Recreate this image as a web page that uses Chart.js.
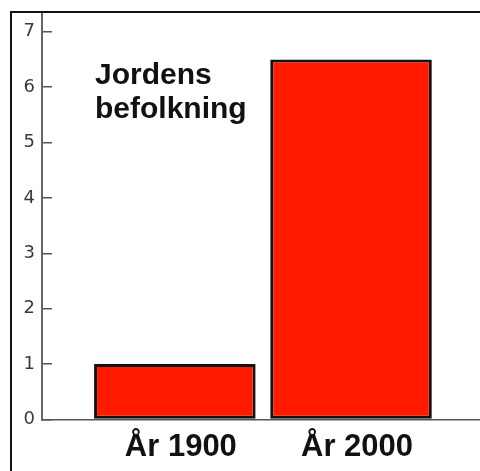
<!DOCTYPE html>
<html>
<head>
<meta charset="utf-8">
<script src="https://cdn.jsdelivr.net/npm/chart.js@4.4.1/dist/chart.umd.min.js"></script>
<style>
  html, body { margin: 0; padding: 0; background: #fff; }
  #wrap { position: relative; width: 480px; height: 471px; overflow: hidden; }
  #frame {
    position: absolute; left: 10px; top: 11px; width: 500px; height: 500px;
    border-left: 2px solid #111; border-top: 2px solid #111;
  }
  #myChart { position: absolute; left: 0; top: 0; }
</style>
</head>
<body>
<div id="wrap">
  <div id="frame"></div>
  <canvas id="myChart" width="480" height="471"></canvas>
</div>
<script>
const categories = ["År 1900", "År 2000"];
const population = [1, 6.5]; // miljarder
const yTicks = [0, 1, 2, 3, 4, 5, 6, 7];
const titleLines = ["Jordens", "befolkning"];

const ctx = document.getElementById("myChart");

// title sits inside the plot, top left
const innerTitle = {
  id: "innerTitle",
  afterDraw(chart) {
    const c = chart.ctx;
    c.save();
    c.font = "bold 30px 'Liberation Sans', Arial, sans-serif";
    c.fillStyle = "#111";
    c.textAlign = "left";
    c.textBaseline = "alphabetic";
    titleLines.forEach((line, i) => {
      c.fillText(line, 95, 84 + i * 34);
    });
    c.restore();
  },
};

new Chart(ctx, {
  type: "bar",
  data: {
    datasets: [
      {
        data: categories.map((c, i) => ({ x: i, y: population[i] })),
        backgroundColor: "#ff1a00",
        borderColor: "#111",
        borderWidth: 3,
        borderSkipped: false,
        barPercentage: 0.917,
        categoryPercentage: 1,
      },
    ],
  },
  options: {
    responsive: false,
    animation: false,
    layout: { padding: { top: 14, left: 0, right: 0, bottom: 0 } },
    plugins: {
      legend: { display: false },
      tooltip: { enabled: false },
    },
    scales: {
      x: {
        type: "linear",
        min: -0.754,
        max: 1.732,
        offset: false,
        grid: { display: false, drawTicks: false, offset: false },
        border: { color: "#555", width: 1.5 },
        afterBuildTicks(scale) {
          scale.ticks = categories.map((c, i) => ({ value: i }));
        },
        afterFit(scale) {
          scale.height = 51.5;
          scale.paddingLeft = 0;
          scale.paddingRight = 0;
        },
        ticks: {
          autoSkip: false,
          maxRotation: 0,
          padding: 9,
          labelOffset: 6,
          color: "#111",
          font: { family: "'Liberation Sans', Arial, sans-serif", size: 31, weight: "bold" },
          callback: (v) => categories[v] ?? "",
        },
      },
      y: {
        min: 0,
        max: 7.32,
        grid: {
          drawOnChartArea: false,
          tickLength: -10,
          color: "#555",
          lineWidth: 1.5,
        },
        border: { color: "#666", width: 2 },
        afterBuildTicks(scale) {
          scale.ticks = yTicks.map((v) => ({ value: v }));
        },
        afterFit(scale) {
          scale.width = 42;
          scale.paddingTop = 0;
          scale.paddingBottom = 0;
        },
        ticks: {
          padding: 17,
          color: "#3a3a3a",
          font: { family: "'DejaVu Sans', sans-serif", size: 18 },
        },
      },
    },
  },
  plugins: [innerTitle],
});
</script>
</body>
</html>
